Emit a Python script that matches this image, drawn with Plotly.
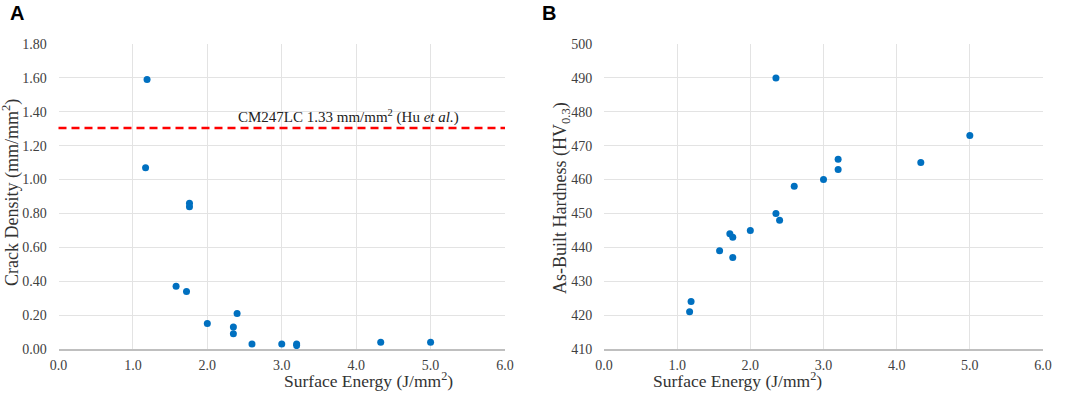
import plotly.graph_objects as go

# Data
energy_a = [1.19, 1.17, 1.76, 1.76, 1.58, 1.72, 2.0, 2.40, 2.35, 2.35, 2.60, 3.0, 3.2, 3.2, 4.33, 5.0]
crack_density = [1.59, 1.07, 0.86, 0.84, 0.37, 0.34, 0.15, 0.21, 0.13, 0.09, 0.03, 0.03, 0.03, 0.02, 0.04, 0.04]

energy_b = [2.35, 5.0, 3.2, 3.2, 4.33, 3.0, 2.6, 2.35, 2.40, 2.0, 1.72, 1.76, 1.58, 1.76, 1.19, 1.17]
hardness = [490, 473, 466, 463, 465, 460, 458, 450, 448, 445, 444, 443, 439, 437, 424, 421]

ref_line_value = 1.305
ref_label = "CM247LC 1.33 mm/mm<sup>2</sup> (Hu <i>et al.</i>)"

x_ticks = [0, 1, 2, 3, 4, 5, 6]
x_tick_text = ["0.0", "1.0", "2.0", "3.0", "4.0", "5.0", "6.0"]
ya_ticks = [0, 0.2, 0.4, 0.6, 0.8, 1.0, 1.2, 1.4, 1.6, 1.8]
ya_tick_text = ["0.00", "0.20", "0.40", "0.60", "0.80", "1.00", "1.20", "1.40", "1.60", "1.80"]
yb_ticks = [410, 420, 430, 440, 450, 460, 470, 480, 490, 500]

W, H = 1065, 398


def px(x):
    return x / W


def py(y):
    return (H - y) / H


blue = "#0070C0"
serif = "Liberation Serif"
grid = "#E3E3E3"
tick_color = "#404040"

fig = go.Figure()
fig.add_trace(go.Scatter(x=energy_a, y=crack_density, mode="markers",
                         marker=dict(color=blue, size=7), xaxis="x", yaxis="y", showlegend=False))
fig.add_trace(go.Scatter(x=energy_b, y=hardness, mode="markers",
                         marker=dict(color=blue, size=7), xaxis="x2", yaxis="y2", showlegend=False))

dom_y = [py(349), py(44)]
dom_a = [px(58.5), px(505)]
dom_b = [px(604), px(1043)]

axis_common = dict(showgrid=True, gridcolor=grid, gridwidth=1, zeroline=False, automargin=False,
                   tickfont=dict(family=serif, size=14, color=tick_color),
                   ticks="outside", tickcolor="rgba(0,0,0,0)")

fig.update_layout(
    width=W, height=H, margin=dict(l=0, r=0, t=0, b=0, autoexpand=False),
    paper_bgcolor="white", plot_bgcolor="white",
    xaxis=dict(domain=dom_a, range=[0, 6], tickvals=x_ticks, ticktext=x_tick_text, ticklen=2,
               showline=True, linecolor="#BFBFBF", linewidth=1.5, anchor="y", **axis_common),
    yaxis=dict(domain=dom_y, range=[0, 1.8], tickvals=ya_ticks, ticktext=ya_tick_text, ticklen=8,
               anchor="x", **axis_common),
    xaxis2=dict(domain=dom_b, range=[0, 6], tickvals=x_ticks, ticktext=x_tick_text, ticklen=2,
                showline=True, linecolor="#BFBFBF", linewidth=1.5, anchor="y2", **axis_common),
    yaxis2=dict(domain=dom_y, range=[410, 500], tickvals=yb_ticks, ticklen=8,
                anchor="x2", **axis_common),
)

fig.add_shape(type="line", xref="x domain", yref="y", x0=0, x1=1,
              y0=ref_line_value, y1=ref_line_value,
              line=dict(color="#FF0000", width=2.5, dash="8px,5px"))

title_font = dict(family=serif, size=17.5, color="#333333")
ytitle_font = dict(family=serif, size=18, color="#333333")
anns = [
    dict(text=ref_label, xref="x", yref="y", x=3.9, y=ref_line_value, yanchor="bottom",
         yshift=0, showarrow=False, font=dict(family=serif, size=15, color="#222222")),
    dict(text="Surface Energy (J/mm<sup>2</sup>)", xref="paper", yref="paper",
         x=(dom_a[0] + dom_a[1]) / 2, y=py(380), yanchor="middle", showarrow=False,
         font=title_font),
    dict(text="Surface Energy (J/mm<sup>2</sup>)", xref="paper", yref="paper",
         x=(dom_b[0] + dom_b[1]) / 2, y=py(380), yanchor="middle", showarrow=False,
         font=title_font),
    dict(text="Crack Density (mm/mm<sup>2</sup>)", xref="paper", yref="paper",
         x=px(11), y=py(193), textangle=-90, xanchor="center",
         yanchor="middle", showarrow=False, font=ytitle_font),
    dict(text="As-Built Hardness (HV<sub>0.3</sub>)", xref="paper", yref="paper",
         x=px(561), y=py(198), textangle=-90, xanchor="center",
         yanchor="middle", showarrow=False, font=ytitle_font),
    dict(text="<b>A</b>", xref="paper", yref="paper", x=px(8), y=py(13),
         xanchor="left", yanchor="middle", showarrow=False,
         font=dict(family="Liberation Sans", size=20, color="black")),
    dict(text="<b>B</b>", xref="paper", yref="paper", x=px(540), y=py(13),
         xanchor="left", yanchor="middle", showarrow=False,
         font=dict(family="Liberation Sans", size=20, color="black")),
]
fig.update_layout(annotations=anns)

fig.write_html("out.html", config={"displayModeBar": False},
               post_script="document.body.style.margin='0';")
